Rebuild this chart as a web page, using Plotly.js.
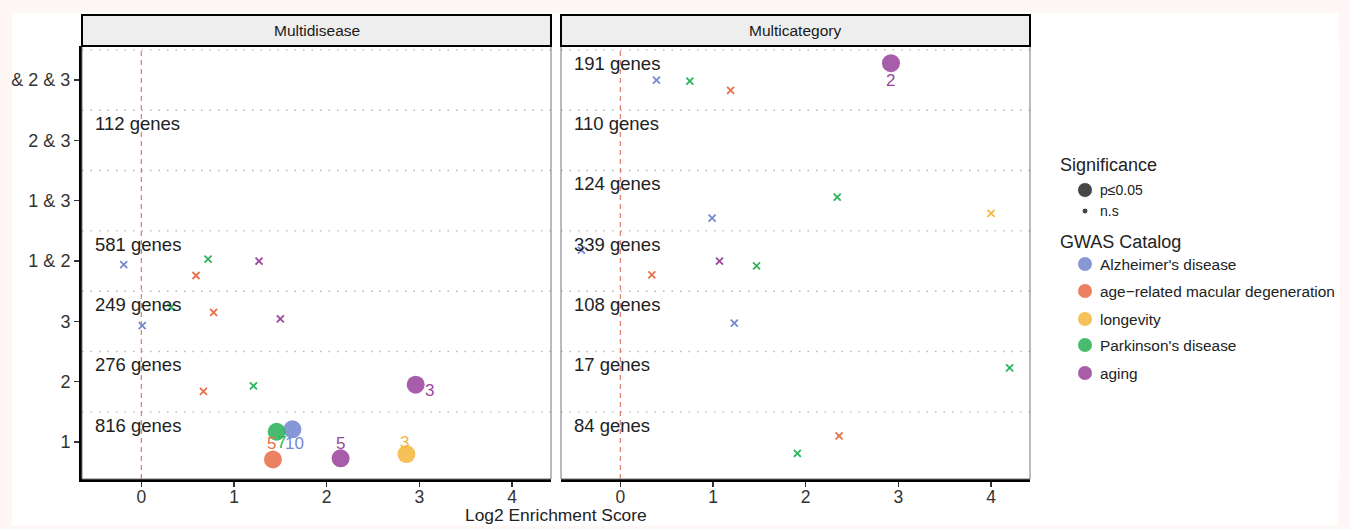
<!DOCTYPE html>
<html><head><meta charset="utf-8">
<script src="https://cdn.plot.ly/plotly-3.0.1.min.js"></script>
<style>html,body{margin:0;padding:0;background:#fff;}#chart{width:1350px;height:529px;}</style>
</head><body><div id="chart"></div>
<script>
// ---------- data ----------
const rowLabels = ["1", "2", "3", "1 & 2", "1 & 3", "2 & 3", "& 2 & 3"];
const rowPos = [1, 2, 3, 4, 5, 6, 7];
const diseases = ["Alzheimer's disease", "age\u2212related macular degeneration", "longevity", "Parkinson's disease", "aging"];
const diseaseColors = ["#7489CF", "#E8704A", "#F6B843", "#2DB35A", "#9B479D"];
const panels = ["Multidisease", "Multicategory"];
const xTicks = [0, 1, 2, 3, 4];

// gene counts per row (null = no label)
const mdGenes = [816, 276, 249, 581, null, 112, null];
const mcGenes = [84, 17, 108, 339, 124, 110, 191];

// Multidisease points: disease index, log2 enrichment, row (jittered), significant, count label
const mdDisease = [0, 3, 4, 1, 3, 1, 4, 0, 1, 3, 4, 0, 3, 1, 4, 2];
const mdScore   = [-0.19, 0.72, 1.27, 0.59, 0.32, 0.78, 1.50, 0.01, 0.67, 1.21, 2.96, 1.63, 1.46, 1.42, 2.15, 2.86];
const mdRow     = [3.94, 4.03, 4.00, 3.76, 3.23, 3.15, 3.04, 2.93, 1.84, 1.93, 1.95, 1.21, 1.17, 0.71, 0.73, 0.80];
const mdSig     = [0, 0, 0, 0, 0, 0, 0, 0, 0, 0, 1, 1, 1, 1, 1, 1];
const mdCount   = [null, null, null, null, null, null, null, null, null, null, 3, 10, 7, 5, 5, 3];

// Multicategory points
const mcDisease = [4, 0, 3, 1, 3, 0, 2, 0, 4, 3, 1, 0, 3, 1, 3];
const mcScore   = [2.92, 0.39, 0.75, 1.19, 2.34, 0.99, 4.00, -0.42, 1.07, 1.47, 0.34, 1.23, 4.20, 2.36, 1.91];
const mcRow     = [7.28, 7.00, 6.98, 6.83, 5.06, 4.71, 4.79, 4.18, 4.00, 3.92, 3.77, 2.97, 2.23, 1.10, 0.81];
const mcSig     = [1, 0, 0, 0, 0, 0, 0, 0, 0, 0, 0, 0, 0, 0, 0];
const mcCount   = [2, null, null, null, null, null, null, null, null, null, null, null, null, null, null];

// ---------- style / geometry ----------
const FONT = '"Liberation Sans", Arial, Helvetica, sans-serif';
const W = 1350, H = 529, ML = 82, MR = 10, MT = 46, MB = 50;
const PW = W - ML - MR, PH = H - MT - MB;
const px = p => (p - ML) / PW;
const py = p => (H - MB - p) / PH;
// label offsets in px [dx, dy(down)] for count labels (repel-like placement)
const mdLabelShift = {10: [14, 6], 11: [2, 14], 12: [5, 11], 13: [-1, -16], 14: [0, -15], 15: [-2, -12]};
const mcLabelShift = {0: [0, 17]};

const traces = [];
const annotations = [];
const shapes = [];

shapes.push({type: 'rect', xref: 'paper', yref: 'paper', x0: px(12), x1: px(1338), y0: py(13), y1: py(526),
  fillcolor: '#ffffff', line: {width: 0}, layer: 'below'});

function addPanel(pi, dis, score, row, sig, cnt, shifts, genes) {
  const xa = pi === 0 ? 'x' : 'x2';
  const ya = pi === 0 ? 'y' : 'y2';
  for (let d = 0; d < diseases.length; d++) {
    for (const s of [0, 1]) {
      const xs = [], ys = [];
      for (let i = 0; i < dis.length; i++) {
        if (dis[i] === d && sig[i] === s) { xs.push(score[i]); ys.push(row[i]); }
      }
      if (!xs.length) continue;
      traces.push({
        type: 'scatter', mode: 'markers', x: xs, y: ys, xaxis: xa, yaxis: ya, showlegend: false,
        hoverinfo: 'skip',
        marker: s ? {symbol: 'circle', size: 18, color: diseaseColors[d], opacity: 0.88, line: {width: 0}}
                  : {symbol: 'x-thin', size: 7, color: diseaseColors[d], line: {width: 1.8, color: diseaseColors[d]}}
      });
    }
  }
  for (let i = 0; i < dis.length; i++) {
    if (cnt[i] == null) continue;
    const sh = shifts[i] || [0, 0];
    annotations.push({xref: xa, yref: ya, x: score[i], y: row[i], text: String(cnt[i]), showarrow: false,
      xshift: sh[0], yshift: -sh[1], borderpad: 0, font: {family: FONT, size: 17, color: diseaseColors[dis[i]]}});
  }
  for (let r = 0; r < rowPos.length; r++) {
    if (genes[r] == null) continue;
    annotations.push({xref: xa, yref: ya, x: -0.52, y: rowPos[r] + 0.28, xanchor: 'left', yanchor: 'middle',
      text: genes[r] + ' genes', showarrow: false, font: {family: FONT, size: 18.5, color: '#222'}});
  }
  shapes.push({type: 'rect', xref: xa + ' domain', yref: ya + ' domain', x0: 0, x1: 1, y0: 0, y1: 1,
    line: {color: '#777', width: 1}, layer: 'above'});
  for (let r = 1; r < rowPos.length + 1; r++) {
    shapes.push({type: 'line', xref: xa + ' domain', yref: ya, x0: 0, x1: 1, y0: r + 0.5, y1: r + 0.5,
      line: {color: '#b3b3b3', width: 1.4, dash: '1.5px,7px'}, layer: 'below'});
  }
  shapes.push({type: 'line', xref: xa, yref: ya + ' domain', x0: 0, x1: 0, y0: 0, y1: 1,
    line: {color: '#E07B6A', width: 1.2, dash: '5px,4px'}, layer: 'below'});
  const sx0 = pi === 0 ? 82 : 561, sx1 = pi === 0 ? 551 : 1030;
  shapes.push({type: 'rect', xref: 'paper', yref: 'paper', x0: px(sx0), x1: px(sx1), y0: py(46), y1: py(15),
    fillcolor: '#eeeeee', line: {color: '#000', width: 2}});
  annotations.push({xref: 'paper', yref: 'paper', x: px((sx0 + sx1) / 2), y: py(30.5), text: panels[pi],
    showarrow: false, xanchor: 'center', yanchor: 'middle', font: {family: FONT, size: 15.5, color: '#1a1a1a'}});
}

addPanel(0, mdDisease, mdScore, mdRow, mdSig, mdCount, mdLabelShift, mdGenes);
addPanel(1, mcDisease, mcScore, mcRow, mcSig, mcCount, mcLabelShift, mcGenes);

// ---------- manual legend (in pixel-space axis x3/y3) ----------
const sigLabels = ["p\u22640.05", "n.s"];
const sigSizes = [15, 6];
const sigY = [190, 211];
const gwasY = [264, 291, 319, 345, 373];
traces.push({type: 'scatter', mode: 'markers', xaxis: 'x3', yaxis: 'y3', showlegend: false, hoverinfo: 'skip',
  x: [1085, 1085], y: sigY, marker: {size: sigSizes, color: '#333', opacity: 0.9}});
traces.push({type: 'scatter', mode: 'markers', xaxis: 'x3', yaxis: 'y3', showlegend: false, hoverinfo: 'skip',
  x: gwasY.map(() => 1085), y: gwasY, marker: {size: 14, color: diseaseColors, opacity: 0.88}});
annotations.push({xref: 'x3', yref: 'y3', x: 1058, y: 165, xanchor: 'left', yanchor: 'middle', showarrow: false,
  text: 'Significance', font: {family: FONT, size: 18, color: '#222'}});
annotations.push({xref: 'x3', yref: 'y3', x: 1058, y: 242, xanchor: 'left', yanchor: 'middle', showarrow: false,
  text: 'GWAS Catalog', font: {family: FONT, size: 18, color: '#222'}});
sigLabels.forEach((t, i) => annotations.push({xref: 'x3', yref: 'y3', x: 1098, y: sigY[i], xanchor: 'left', yanchor: 'middle',
  showarrow: false, text: t, font: {family: FONT, size: 14, color: '#222'}}));
diseases.forEach((t, i) => annotations.push({xref: 'x3', yref: 'y3', x: 1098, y: gwasY[i], xanchor: 'left', yanchor: 'middle',
  showarrow: false, text: t, font: {family: FONT, size: 15.4, color: '#222'}}));

// x-axis title
annotations.push({xref: 'paper', yref: 'paper', x: px(556), y: py(515), xanchor: 'center', yanchor: 'middle',
  showarrow: false, text: 'Log2 Enrichment Score', font: {family: FONT, size: 17.4, color: '#222'}});

const xRange = [-0.64, 4.42];
const yRange = [0.387, 7.564];
const xBase = {range: xRange, autorange: false, tickvals: xTicks, ticktext: xTicks.map(String), ticks: 'outside',
  ticklen: 5, tickwidth: 1.2, tickcolor: '#333', showgrid: false, zeroline: false, showline: true,
  linecolor: '#000', linewidth: 3, ticklabelstandoff: -5,
  tickfont: {family: FONT, size: 17.5, color: '#333'}, fixedrange: true};
const yBase = {range: yRange, autorange: false, tickvals: rowPos, ticktext: rowLabels, showgrid: false,
  zeroline: false, fixedrange: true};

const layout = {
  width: W, height: H, margin: {l: ML, r: MR, t: MT, b: MB, pad: 0},
  paper_bgcolor: '#fff7f6', plot_bgcolor: '#ffffff', showlegend: false,
  font: {family: FONT},
  xaxis: Object.assign({}, xBase, {domain: [px(82), px(551)], anchor: 'y'}),
  xaxis2: Object.assign({}, xBase, {domain: [px(561), px(1030)], anchor: 'y2'}),
  yaxis: Object.assign({}, yBase, {domain: [0, 1], anchor: 'x', ticks: 'outside', ticklen: 5, tickwidth: 1.2,
    tickcolor: '#333', showline: true, linecolor: '#000', linewidth: 3,
    tickfont: {family: FONT, size: 18, color: '#333'}}),
  yaxis2: Object.assign({}, yBase, {domain: [0, 1], anchor: 'x2', showticklabels: false, ticks: ''}),
  xaxis3: {domain: [px(1040), 1], range: [1040, 1340], visible: false, fixedrange: true, anchor: 'y3'},
  yaxis3: {domain: [0, 1], range: [H - MB, MT], visible: false, fixedrange: true, anchor: 'x3'},
  shapes: shapes, annotations: annotations
};

Plotly.newPlot('chart', traces, layout, {displayModeBar: false, staticPlot: true});
</script></body></html>
